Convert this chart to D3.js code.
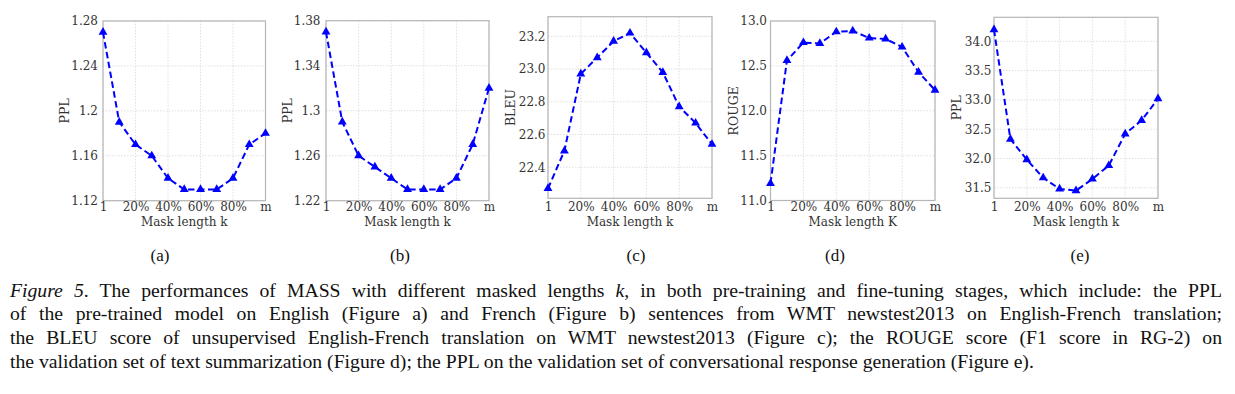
<!DOCTYPE html>
<html>
<head>
<meta charset="utf-8">
<script src="https://cdn.jsdelivr.net/npm/d3@7"></script>
<style>
  body { margin: 0; background: #fff; position: relative; width: 1235px; height: 394px; overflow: hidden; }
  svg { display: block; }
  .tick text { font-family: "DejaVu Serif", serif; fill: #333; }
  #caption { position: absolute; left: 10px; top: 278.5px; width: 1212px;
             font-family: "Liberation Serif", serif; font-size: 19.7px; line-height: 23.7px; color: #111; }
  #caption div { white-space: nowrap; text-align: justify; text-align-last: justify; }
  #caption div.last { text-align-last: left; }
</style>
</head>
<body>
<svg id="fig" width="1235" height="394"></svg>
<div id="caption"></div>
<script>
// mask lengths on the x axis, 11 steps from 1 to m
const maskLengths = ["1", "10%", "20%", "30%", "40%", "50%", "60%", "70%", "80%", "90%", "m"];
const maskTicks = ["1", "20%", "40%", "60%", "80%", "m"];

// (a) PPL of pre-trained model, English
const pplEnglish = [1.27, 1.19, 1.17, 1.16, 1.14, 1.13, 1.13, 1.13, 1.14, 1.17, 1.18];
const pplEnglishTicks = [1.12, 1.16, 1.2, 1.24, 1.28];
// (b) PPL of pre-trained model, French
const pplFrench = [1.37, 1.29, 1.26, 1.25, 1.24, 1.23, 1.23, 1.23, 1.24, 1.27, 1.32];
const pplFrenchTicks = [1.22, 1.26, 1.3, 1.34, 1.38];
// (c) BLEU, unsupervised En-Fr
const bleuScores = [22.27, 22.50, 22.97, 23.07, 23.17, 23.22, 23.10, 22.98, 22.77, 22.67, 22.54];
const bleuTicks = [22.4, 22.6, 22.8, 23.0, 23.2];
// (d) ROUGE, text summarization
const rougeScores = [11.19, 12.56, 12.76, 12.75, 12.88, 12.89, 12.81, 12.80, 12.71, 12.43, 12.23];
const rougeTicks = [11.0, 11.5, 12.0, 12.5, 13.0];
// (e) PPL, conversational response generation
const pplDialog = [34.2, 32.33, 31.98, 31.67, 31.48, 31.45, 31.65, 31.88, 32.42, 32.65, 33.02];
const pplDialogTicks = [31.5, 32.0, 32.5, 33.0, 33.5, 34.0];

const panelTags = ["(a)", "(b)", "(c)", "(d)", "(e)"];

const captionLines = [
  [["Figure 5", true], [". The performances of MASS with different masked lengths ", false], ["k", true], [", in both pre-training and fine-tuning stages, which include: the PPL", false]],
  [["of the pre-trained model on English (Figure a) and French (Figure b) sentences from WMT newstest2013 on English-French translation;", false]],
  [["the BLEU score of unsupervised English-French translation on WMT newstest2013 (Figure c); the ROUGE score (F1 score in RG-2) on", false]],
  [["the validation set of text summarization (Figure d); the PPL on the validation set of conversational response generation (Figure e).", false]]
];

const two = v => String(+v.toFixed(2));
const one = d3.format(".1f");

var panels = [
  {vals: pplEnglish, ticks: pplEnglishTicks, fmt: two, dom: [1.12, 1.28], ylab: "PPL", xlab: "Mask length k",
   x0: 103, x1: 265.5, top: 21, bot: 200.7, ylx: 65, pad: 5, tagx: 160},
  {vals: pplFrench, ticks: pplFrenchTicks, fmt: two, dom: [1.22, 1.38], ylab: "PPL", xlab: "Mask length k",
   x0: 326, x1: 489, top: 20.7, bot: 200.7, ylx: 288, pad: 5.5, tagx: 400},
  {vals: bleuScores, ticks: bleuTicks, fmt: one, dom: [22.21, 23.32], ylab: "BLEU", xlab: "Mask length k",
   x0: 548, x1: 712, top: 16.7, bot: 198.3, ylx: 511, pad: 2.5, tagx: 636},
  {vals: rougeScores, ticks: rougeTicks, fmt: one, dom: [11.0, 13.0], ylab: "ROUGE", xlab: "Mask length K",
   x0: 770.5, x1: 935, top: 21, bot: 200.5, ylx: 734, pad: 3.5, tagx: 835},
  {vals: pplDialog, ticks: pplDialogTicks, fmt: one, dom: [31.32, 34.41], ylab: "PPL", xlab: "Mask length k",
   x0: 994, x1: 1158, top: 17.3, bot: 198.3, ylx: 957, pad: 2.5, tagx: 1080}
];

var svg = d3.select("#fig");

panels.forEach(function(p, i) {
  var x = d3.scalePoint().domain(maskLengths).range([p.x0, p.x1]);
  var y = d3.scaleLinear().domain(p.dom).range([p.bot, p.top]);
  var g = svg.append("g");

  // grid
  g.append("g").selectAll("line").data(p.ticks).enter().append("line")
    .attr("x1", p.x0).attr("x2", p.x1)
    .attr("y1", d => y(d)).attr("y2", d => y(d))
    .style("stroke", "#d8d8d8").style("stroke-dasharray", "1.5,1.5").style("stroke-width", 0.8);
  g.append("g").selectAll("line").data(maskTicks).enter().append("line")
    .attr("x1", d => x(d)).attr("x2", d => x(d))
    .attr("y1", p.top).attr("y2", p.bot)
    .style("stroke", "#d8d8d8").style("stroke-dasharray", "1.5,1.5").style("stroke-width", 0.8);

  // frame
  g.append("rect")
    .attr("x", p.x0).attr("y", p.top)
    .attr("width", p.x1 - p.x0).attr("height", p.bot - p.top)
    .style("fill", "none").style("stroke", "#b5b5b5").style("stroke-width", 1.2);

  // axes
  var ya = g.append("g").attr("transform", "translate(" + p.x0 + ",0)")
    .call(d3.axisLeft(y).tickValues(p.ticks).tickFormat(p.fmt).tickSize(0).tickPadding(p.pad));
  ya.select(".domain").remove();
  ya.selectAll("text").style("font-size", "12px");

  var xa = g.append("g").attr("transform", "translate(0," + p.bot + ")")
    .call(d3.axisBottom(x).tickValues(maskTicks).tickSize(0).tickPadding(202.5 - p.bot));
  xa.select(".domain").remove();
  xa.selectAll("text").style("font-size", "12px");

  // line + markers
  var line = d3.line().x((d, j) => x(maskLengths[j])).y(d => y(d));
  g.append("path").datum(p.vals)
    .attr("d", line)
    .style("fill", "none").style("stroke", "#0000ff").style("stroke-width", 2)
    .style("stroke-dasharray", "6.5,3.5");
  g.append("g").selectAll("path").data(p.vals).enter().append("path")
    .attr("d", d3.symbol().type(d3.symbolTriangle).size(34))
    .attr("transform", (d, j) => "translate(" + x(maskLengths[j]) + "," + y(d) + ")")
    .style("fill", "#0000ff");

  // labels
  g.append("text")
    .attr("transform", "translate(" + p.ylx + "," + ((p.top + p.bot) / 2) + ") rotate(-90)")
    .attr("text-anchor", "middle").attr("dominant-baseline", "middle")
    .style("font-family", "DejaVu Serif, serif").style("font-size", "12.5px").style("fill", "#333")
    .text(p.ylab);
  g.append("text")
    .attr("x", (p.x0 + p.x1) / 2).attr("y", 226)
    .attr("text-anchor", "middle")
    .style("font-family", "DejaVu Serif, serif").style("font-size", "12px").style("fill", "#333")
    .text(p.xlab);
  g.append("text")
    .attr("x", p.tagx).attr("y", 261)
    .attr("text-anchor", "middle")
    .style("font-family", "Liberation Serif, serif").style("font-size", "17px").style("fill", "#111")
    .text(panelTags[i]);
});

// caption, one justified block per line of the paper
var cap = d3.select("#caption");
captionLines.forEach(function(parts, k) {
  var row = cap.append("div").classed("last", k === captionLines.length - 1);
  parts.forEach(function(s) {
    row.append("span").style("font-style", s[1] ? "italic" : "normal").text(s[0]);
  });
});
</script>
</body>
</html>
